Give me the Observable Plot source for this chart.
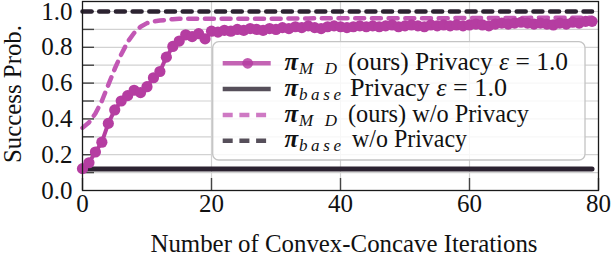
<!DOCTYPE html>
<html><head><meta charset="utf-8">
<script src="https://cdn.jsdelivr.net/npm/d3@7"></script>
<script src="https://cdn.jsdelivr.net/npm/@observablehq/plot@0.6"></script>
<style>
html,body{margin:0;padding:0;background:#fff;}
#wrap{position:relative;width:612px;height:256px;font-family:'Liberation Serif','Times New Roman',serif;}
#wrap svg{position:absolute;left:0;top:0;}
#wrap text{font-family:'Liberation Serif','Times New Roman',serif;}
</style></head><body><div id="wrap"></div>
<script>
// ---- data ----
const iterations = Array.from({length: 80}, (_, i) => i);
const mdPrivacy = [
  0.122,0.155,0.215,0.27,0.375,0.45,0.50,0.53,0.56,0.547,
  0.58,0.63,0.665,0.745,0.805,0.835,0.87,0.86,0.876,0.847,
  0.89,0.885,0.895,0.89,0.90,0.895,0.905,0.90,0.895,0.905,
  0.90,0.91,0.905,0.915,0.91,0.92,0.91,0.905,0.915,0.92,
  0.915,0.91,0.915,0.92,0.915,0.92,0.915,0.92,0.925,0.915,
  0.92,0.925,0.92,0.915,0.925,0.92,0.925,0.92,0.925,0.92,
  0.925,0.93,0.925,0.92,0.93,0.935,0.93,0.935,0.94,0.935,
  0.93,0.935,0.93,0.925,0.935,0.93,0.94,0.935,0.945,0.945];
const mdNoPrivacy = [
  0.35,0.38,0.43,0.50,0.59,0.68,0.76,0.83,0.88,0.915,
  0.935,0.945,0.95,0.953,0.957,0.96,0.96,0.96,0.96,0.96,
  0.96,0.96,0.96,0.96,0.96,0.96,0.96,0.96,0.96,0.96,
  0.96,0.96,0.961,0.961,0.961,0.961,0.962,0.962,0.962,0.962,
  0.962,0.962,0.962,0.962,0.963,0.963,0.963,0.963,0.963,0.963,
  0.963,0.963,0.963,0.963,0.963,0.963,0.963,0.963,0.964,0.964,
  0.964,0.964,0.964,0.964,0.964,0.964,0.964,0.964,0.964,0.964,
  0.965,0.965,0.965,0.965,0.965,0.965,0.965,0.965,0.965,0.965];
const basePrivacy = 0.12;
const baseNoPrivacy = 1.0;
const baseSpan = [0, 79];
const xTicks = [0, 20, 40, 60, 80];
const xGrid = [20, 40, 60];
const yTicks = [0, 0.2, 0.4, 0.6, 0.8, 1.0];
const yTickLabels = ["0.0", "0.2", "0.4", "0.6", "0.8", "1.0"];
const yMinor = [0.1, 0.2, 0.3, 0.4, 0.5, 0.6, 0.7, 0.8, 0.9, 1.0];
const xLabel = "Number of Convex-Concave Iterations";
const yLabel = "Success Prob.";

// ---- styles ----
const MAG = "#b53da1", MAG_D = "#c257b4", DARK = "#2c2331";
const FONT = "'Liberation Serif','Times New Roman',serif";

const mdP = iterations.map((x, i) => ({x, y: mdPrivacy[i]}));
const mdN = iterations.map((x, i) => ({x, y: mdNoPrivacy[i]}));
const bP = baseSpan.map(x => ({x, y: basePrivacy}));
const bN = baseSpan.map(x => ({x, y: baseNoPrivacy}));

const chart = Plot.plot({
  width: 612, height: 256,
  marginLeft: 82, marginRight: 14, marginTop: 1, marginBottom: 66,
  x: {domain: [0, 80]},
  y: {domain: [0, 1.056]},
  style: {fontFamily: FONT, fontSize: "25px", background: "transparent", color: "#111"},
  marks: [
    Plot.gridY(yMinor, {stroke: "#d2d2d2", strokeOpacity: 1, strokeWidth: 1.2}),
    Plot.gridX(xGrid, {stroke: "#d2d2d2", strokeOpacity: 1, strokeWidth: 1.2}),
    Plot.axisY(yMinor, {tickSize: 12, dx: 12, tickFormat: () => "", label: null, stroke: "#444", strokeWidth: 1.4}),
    Plot.axisX(xTicks, {tickSize: 12, dy: -12, tickFormat: () => "", label: null, stroke: "#444", strokeWidth: 1.4}),
    Plot.axisY(yTicks, {tickSize: 0, tickPadding: 10, tickFormat: (d, i) => yTickLabels[i], label: null, fontSize: 25}),
    Plot.axisX(xTicks, {tickSize: 0, tickPadding: 4, tickFormat: d => String(d), label: null, fontSize: 25}),
    Plot.line(bN, {x: "x", y: "y", stroke: DARK, strokeWidth: 4.5, strokeDasharray: "9,7.7"}),
    Plot.line(bP, {x: "x", y: "y", stroke: DARK, strokeWidth: 5}),
    Plot.line(mdN, {x: "x", y: "y", stroke: MAG_D, strokeWidth: 4.5, strokeDasharray: "9,7.7"}),
    Plot.line(mdP, {x: "x", y: "y", stroke: MAG, strokeWidth: 4}),
    Plot.dot(mdP, {x: "x", y: "y", r: 5.6, fill: MAG, stroke: "none"}),
    Plot.frame({stroke: "#1a1a1a", strokeWidth: 1.3})
  ]
});
const wrap = document.getElementById("wrap");
wrap.appendChild(chart);

// ---- overlay: axis labels and legend ----
const NS = "http://www.w3.org/2000/svg";
const ov = document.createElementNS(NS, "svg");
ov.setAttribute("width", 612); ov.setAttribute("height", 256);
ov.style.fontFamily = FONT;
wrap.appendChild(ov);
function el(tag, attrs, parent = ov) {
  const e = document.createElementNS(NS, tag);
  for (const k in attrs) e.setAttribute(k, attrs[k]);
  parent.appendChild(e); return e;
}
function txt(s, attrs) { const e = el("text", attrs); e.textContent = s; return e; }

txt(xLabel, {x: 344, y: 252, "text-anchor": "middle", "font-size": 25, fill: "#111", textLength: 387, lengthAdjust: "spacingAndGlyphs"});
txt(yLabel, {transform: "translate(20.5,94) rotate(-90)", "text-anchor": "middle", "font-size": 25, fill: "#111", textLength: 138, lengthAdjust: "spacingAndGlyphs"});

// legend
el("rect", {x: 212.7, y: 41.7, width: 372.3, height: 118.3, rx: 6, ry: 6, fill: "rgba(255,255,255,0.82)", stroke: "#c4c4c4", "stroke-width": 1.3});
const legendRows = [
  {sub: "MD", subW: 38, rest: "(ours) Privacy ", eps: true, restX: 348, restW: 220, color: MAG, dash: null, marker: true},
  {sub: "base", subW: 42, rest: "Privacy ", eps: true, restX: 350, restW: 157, color: DARK, dash: null, marker: false},
  {sub: "MD", subW: 38, rest: "(ours) w/o Privacy", eps: false, restX: 348, restW: 181, color: MAG_D, dash: "10,6.7", marker: false},
  {sub: "base", subW: 42, rest: "w/o Privacy", eps: false, restX: 352, restW: 115, color: DARK, dash: "10,6.7", marker: false}
];
legendRows.forEach((r, i) => {
  const base = 70 + i * 25.8;
  const cy = base - 6.7;
  const ln = el("line", {x1: 222.7, x2: 270.7, y1: cy, y2: cy, stroke: r.color, "stroke-width": 4.5, "stroke-opacity": 0.8});
  if (r.dash) ln.setAttribute("stroke-dasharray", r.dash);
  if (r.marker) el("circle", {cx: 247.7, cy, r: 5.4, fill: r.color, "fill-opacity": 0.85});
  txt("π", {x: 284.5, y: base, "font-size": 25, "font-weight": "bold", "font-style": "italic", fill: "#111"});
  txt(r.sub, {x: 299, y: base + 4, "font-size": 17, "font-style": "italic", fill: "#111", textLength: r.subW, lengthAdjust: "spacing"});
  const t = el("text", {x: r.restX, y: base, "font-size": 25, fill: "#111", textLength: r.restW, lengthAdjust: "spacingAndGlyphs"});
  const a = document.createElementNS(NS, "tspan"); a.textContent = r.rest; t.appendChild(a);
  if (r.eps) {
    const e = document.createElementNS(NS, "tspan"); e.setAttribute("font-style", "italic"); e.textContent = "ε"; t.appendChild(e);
    const b = document.createElementNS(NS, "tspan"); b.textContent = " = 1.0"; t.appendChild(b);
  }
});
</script></body></html>
